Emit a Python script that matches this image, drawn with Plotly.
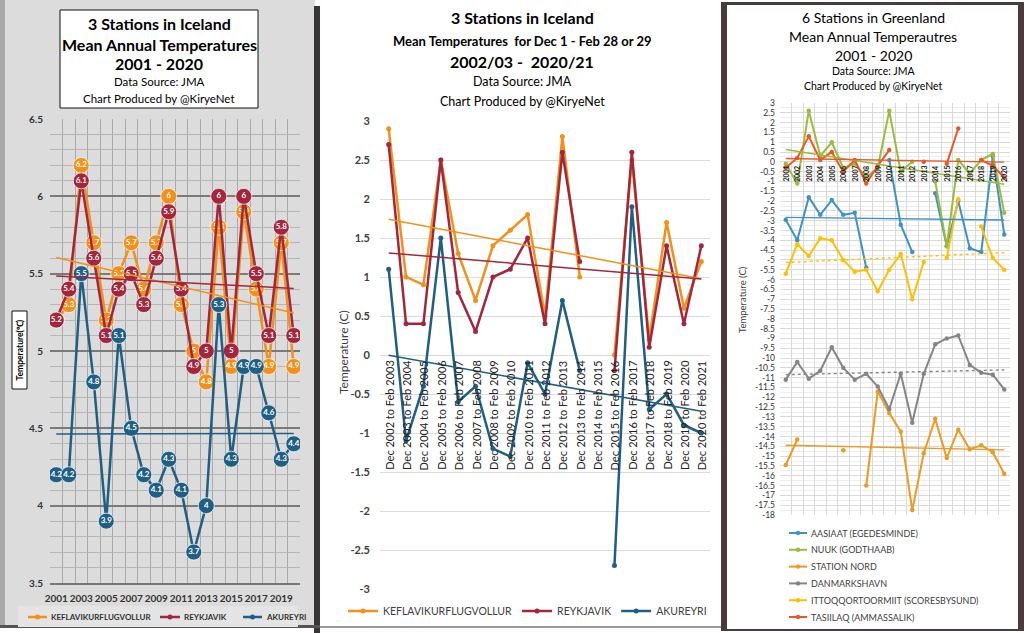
import numpy as np
import plotly.graph_objects as go

W, H = 1024, 633
FONT = "Lato"

# ---------------- data ----------------
years = [2001, 2002, 2003, 2004, 2005, 2006, 2007, 2008, 2009, 2010,
         2011, 2012, 2013, 2014, 2015, 2016, 2017, 2018, 2019, 2020]
year_ticks = [2001, 2003, 2005, 2007, 2009, 2011, 2013, 2015, 2017, 2019]

kef_annual = [5.2, 5.3, 6.2, 5.7, 5.2, 5.5, 5.7, 5.4, 5.7, 6.0,
              5.3, 5.0, 4.8, 5.8, 4.9, 5.9, 5.4, 4.9, 5.7, 4.9]
rey_annual = [5.2, 5.4, 6.1, 5.6, 5.1, 5.4, 5.5, 5.3, 5.6, 5.9,
              5.4, 4.9, 5.0, 6.0, 5.0, 6.0, 5.5, 5.1, 5.8, 5.1]
aku_annual = [4.2, 4.2, 5.5, 4.8, 3.9, 5.1, 4.5, 4.2, 4.1, 4.3,
              4.1, 3.7, 4.0, 5.3, 4.3, 4.9, 4.9, 4.6, 4.3, 4.4]

winters = ["Dec 2002 to Feb 2003", "Dec 2003 to Feb 2004", "Dec 2004 to Feb 2005",
           "Dec 2005 to Feb 2006", "Dec 2006 to Feb 2007", "Dec 2007 to Feb 2008",
           "Dec 2008 to Feb 2009", "Dec 2009 to Feb 2010", "Dec 2010 to Feb 2011",
           "Dec 2011 to Feb 2012", "Dec 2012 to Feb 2013", "Dec 2013 to Feb 2014",
           "Dec 2014 to Feb 2015", "Dec 2015 to Feb 2016", "Dec 2016 to Feb 2017",
           "Dec 2017 to Feb 2018", "Dec 2018 to Feb 2019", "Dec 2019 to Feb 2020",
           "Dec 2020 to Feb 2021"]
kef_winter = [2.9, 1.0, 0.9, 2.5, 1.3, 0.7, 1.4, 1.6, 1.8, 0.5,
              2.8, 1.0, None, 0.0, 2.5, 0.2, 1.7, 0.6, 1.2]
rey_winter = [2.7, 0.4, 0.4, 2.5, 0.8, 0.3, 1.0, 1.1, 1.5, 0.4,
              2.6, 1.2, None, -0.2, 2.6, 0.1, 1.4, 0.4, 1.4]
aku_winter = [1.1, -1.1, -0.4, 1.5, -0.6, -0.4, -1.2, -1.3, -0.1, -0.5,
              0.7, -0.2, None, -2.7, 1.9, -0.7, -0.5, -0.9, -1.0]

aasiaat = [-2.95, -4.0, -1.8, -2.7, -1.95, -2.7, -2.6, -5.4, None, 0.1,
           -3.2, -4.6, None, -1.6, -4.3, -2.0, -4.4, -4.6, 0.3, -3.7]
nuuk = [-0.1, -1.1, 2.6, 0.3, 1.0, -0.3, -0.1, -0.8, -0.3, 2.6,
        -0.5, 0.0, None, -1.0, -4.3, 0.1, -0.6, 0.1, 0.4, -2.6]
station_nord = [-15.45, -14.15, None, None, None, -14.7, None, -16.5, -11.7, -12.8,
                -13.75, -17.75, -14.85, -13.1, -15.1, -13.65, -14.65, -14.45, -14.8, -15.9]
danmarkshavn = [-11.1, -10.2, -11.05, -10.65, -9.45, -10.5, -11.1, -10.8, -11.45, -12.6,
                -10.8, -13.3, -10.8, -9.3, -9.0, -8.85, -10.35, -10.75, -10.85, -11.6]
ittoqqortoormiit = [-5.7, -4.2, -4.8, -3.9, -4.0, -5.0, -5.6, -5.5, -6.6, -5.5,
                    -4.7, -7.0, -5.1, None, -4.9, -1.9, None, -3.3, -4.9, -5.5]
tasiilaq = [-0.3, 0.2, 1.3, 0.1, 0.5, -0.5, 0.1, -1.1, -0.2, 0.6,
            None, None, 0.0, None, -0.1, 1.7, None, 0.1, -0.2, -0.8]

left_yticks = [3.5, 4, 4.5, 5, 5.5, 6, 6.5]
mid_yticks = [-3, -2.5, -2, -1.5, -1, -0.5, 0, 0.5, 1, 1.5, 2, 2.5, 3]
right_yticks = [3 - 0.5 * i for i in range(43)]

# ---------------- helpers ----------------
def px(x):
    return x / W


def py(y):
    return 1 - y / H


def trend(xs, ys):
    pts = [(x, y) for x, y in zip(xs, ys) if y is not None]
    a, b = np.polyfit([p[0] for p in pts], [p[1] for p in pts], 1)
    return [xs[0], xs[-1]], [a * xs[0] + b, a * xs[-1] + b]


def fmt(v):
    return f"{v:g}"


fig = go.Figure()
annotations = []
shapes = []


def note(text, x, y, size, color="#000", bold=False, xanchor="center", yanchor="middle", angle=0):
    annotations.append(dict(
        text=f"<b>{text}</b>" if bold else text, x=px(x), y=py(y), xref="paper", yref="paper",
        showarrow=False, font=dict(size=size, color=color, family=FONT),
        xanchor=xanchor, yanchor=yanchor, textangle=angle))


def legend_entry(x0, x1, yy, col, name, size, color, bold=False, r=2.2, width=2):
    shapes.append(dict(type="line", xref="paper", yref="paper", x0=px(x0), x1=px(x1),
                       y0=py(yy), y1=py(yy), line=dict(color=col, width=width)))
    xc = (x0 + x1) / 2
    shapes.append(dict(type="circle", xref="paper", yref="paper", x0=px(xc - r), x1=px(xc + r),
                       y0=py(yy + r), y1=py(yy - r), fillcolor=col, line=dict(width=0)))
    note(name, x1 + 2, yy, size, color=color, bold=bold, xanchor="left")


# ---------------- panel backgrounds ----------------
shapes += [
    dict(type="rect", xref="paper", yref="paper", x0=px(0), x1=px(315), y0=py(626), y1=py(0),
         fillcolor="#dcdcdc", line=dict(width=0), layer="below"),
    dict(type="rect", xref="paper", yref="paper", x0=px(0), x1=px(5), y0=py(626), y1=py(0),
         fillcolor="#a8a8a8", line=dict(width=0), layer="below"),
    dict(type="rect", xref="paper", yref="paper", x0=px(314), x1=px(320), y0=py(633), y1=py(6),
         fillcolor="#3a3434", line=dict(width=0), layer="below"),
    dict(type="rect", xref="paper", yref="paper", x0=px(0), x1=px(320), y0=py(628), y1=py(625),
         fillcolor="#555555", line=dict(width=0), layer="below"),
    dict(type="line", xref="paper", yref="paper", x0=px(320), x1=px(721), y0=py(627), y1=py(627),
         line=dict(color="#9a9a9a", width=2), layer="below"),
    dict(type="rect", xref="paper", yref="paper", x0=px(721), x1=px(727), y0=py(631), y1=py(3),
         fillcolor="#4a3c3c", line=dict(width=0), layer="below"),
    dict(type="rect", xref="paper", yref="paper", x0=px(721), x1=px(1024), y0=py(5), y1=py(2),
         fillcolor="#4a3c3c", line=dict(width=0), layer="below"),
    dict(type="rect", xref="paper", yref="paper", x0=px(1018), x1=px(1024), y0=py(631), y1=py(3),
         fillcolor="#4a3c3c", line=dict(width=0), layer="below"),
    dict(type="line", xref="paper", yref="paper", x0=px(721), x1=px(1024), y0=py(630), y1=py(630),
         line=dict(color="#4a3c3c", width=2), layer="below"),
    # left title box
    dict(type="rect", xref="paper", yref="paper", x0=px(60), x1=px(258), y0=py(108), y1=py(10),
         fillcolor="white", line=dict(color="#111", width=1)),
    # left legend box
    dict(type="rect", xref="paper", yref="paper", x0=px(18), x1=px(298), y0=py(627), y1=py(606),
         fillcolor="#e4e4e4", line=dict(width=0), layer="below"),
    # left y title box
    dict(type="rect", xref="paper", yref="paper", x0=px(12), x1=px(27), y0=py(389), y1=py(311),
         fillcolor="white", line=dict(color="#111", width=1)),
]

# ---------------- titles ----------------
note("3 Stations in Iceland", 159, 24, 16, bold=True)
note("Mean Annual Temperatures", 159, 44, 16, bold=True)
note("2001 - 2020", 159, 64, 16, bold=True)
note("Data Source: JMA", 159, 81, 11.5)
note("Chart Produced by @KiryeNet", 159, 98, 11.5)

note("3 Stations in Iceland", 522, 18, 16, bold=True)
note("Mean Temperatures  for Dec 1 - Feb 28 or 29", 522, 41, 13, bold=True)
note("2002/03 -  2020/21", 522, 62, 16, bold=True)
note("Data Source: JMA", 522, 82, 12.5)
note("Chart Produced by @KiryeNet", 522, 101, 12.5)

note("6 Stations in Greenland", 873, 18, 14)
note("Mean Annual Temperautres", 873, 37, 14)
note("2001 - 2020", 873, 55, 14)
note("Data Source: JMA", 873, 71, 10.5)
note("Chart Produced by @KiryeNet", 873, 86, 10.5)

note("Temperature(\u2103)", 19.5, 350, 8.5, bold=True, angle=-90)
note("Temperature (C)", 343, 352, 12, color="#404040", angle=-90)
note("Temperature (C)", 742, 300, 9.5, color="#404040", angle=-90)

# ---------------- chart 1 ----------------
c_or, c_red, c_blue = "#f39019", "#a3263c", "#1f5f84"
left_series = [("KEFLAVIKURFLUGVOLLUR", kef_annual, c_or),
               ("REYKJAVIK", rey_annual, c_red),
               ("AKUREYRI", aku_annual, c_blue)]
for name, vals, col in left_series:
    fig.add_trace(go.Scatter(
        x=years, y=vals, mode="lines+markers+text", text=[fmt(v) for v in vals], name=name,
        textposition="middle center", textfont=dict(color="white", size=8, family=FONT, weight="bold"),
        line=dict(color=col, width=2.5),
        marker=dict(size=16, color=col, line=dict(color="rgba(255,255,255,0.7)", width=1)),
        xaxis="x", yaxis="y", showlegend=False, hoverinfo="skip"))
for name, vals, col in left_series:
    tx, ty = trend(years, vals)
    fig.add_trace(go.Scatter(x=tx, y=ty, mode="lines", line=dict(color=col, width=1.5),
                             xaxis="x", yaxis="y", showlegend=False, hoverinfo="skip"))
for (name, vals, col), (x0, x1) in zip(left_series, [(28, 47), (160, 180), (243, 262)]):
    legend_entry(x0, x1, 617, col, name, 8, "#333", bold=True, r=2.5, width=2.5)

# ---------------- chart 2 ----------------
idx = list(range(len(winters)))
mid_series = [("KEFLAVIKURFLUGVOLLUR", kef_winter, c_or),
              ("REYKJAVIK", rey_winter, c_red),
              ("AKUREYRI", aku_winter, c_blue)]
for name, vals, col in mid_series:
    fig.add_trace(go.Scatter(x=idx, y=vals, mode="lines+markers", name=name,
                             line=dict(color=col, width=2.5), marker=dict(size=5, color=col),
                             xaxis="x2", yaxis="y2", legend="legend2", hoverinfo="skip"))
for name, vals, col in mid_series:
    tx, ty = trend(idx, vals)
    fig.add_trace(go.Scatter(x=tx, y=ty, mode="lines", line=dict(color=col, width=1.5),
                             xaxis="x2", yaxis="y2", showlegend=False, hoverinfo="skip"))
for i, lab in zip(idx, winters):
    annotations.append(dict(text=lab, x=i, y=0, xref="x2", yref="y2", showarrow=False,
                            textangle=-90, xanchor="center", yanchor="top", yshift=-3,
                            font=dict(size=11, color="#222", family=FONT)))

# ---------------- chart 3 ----------------
green_series = [
    ("AASIAAT (EGEDESMINDE)", aasiaat, "#3f93c4", "solid"),
    ("NUUK (GODTHAAB)", nuuk, "#9bbb3b", "solid"),
    ("STATION NORD", station_nord, "#ee9a1e", "solid"),
    ("DANMARKSHAVN", danmarkshavn, "#858585", "dot"),
    ("ITTOQQORTOORMIIT (SCORESBYSUND)", ittoqqortoormiit, "#ffc000", "dot"),
    ("TASIILAQ (AMMASSALIK)", tasiilaq, "#e8582a", "solid"),
]
for name, vals, col, ts in green_series:
    fig.add_trace(go.Scatter(x=years, y=vals, mode="lines+markers", name=name,
                             line=dict(color=col, width=2), marker=dict(size=4.5, color=col),
                             xaxis="x3", yaxis="y3", showlegend=False, hoverinfo="skip"))
for name, vals, col, ts in green_series:
    tx, ty = trend(years, vals)
    fig.add_trace(go.Scatter(x=tx, y=ty, mode="lines", line=dict(color=col, width=1.4, dash=ts),
                             xaxis="x3", yaxis="y3", showlegend=False, hoverinfo="skip"))
for yv in years:
    annotations.append(dict(text=f"<b>{yv}</b>", x=yv, y=0, xref="x3", yref="y3", showarrow=False,
                            textangle=-90, xanchor="center", yanchor="top", yshift=-2,
                            font=dict(size=7, color="#222", family=FONT)))
for k, (name, vals, col, ts) in enumerate(green_series):
    legend_entry(789, 807, 533 + k * 16.8, col, name, 9, "#404040")

# ---------------- layout ----------------
fig.update_layout(
    width=W, height=H, margin=dict(l=0, r=0, t=0, b=0, pad=0, autoexpand=False),
    paper_bgcolor="white", plot_bgcolor="rgba(0,0,0,0)",
    font=dict(family=FONT),
    shapes=shapes, annotations=annotations,
    xaxis=dict(domain=[px(50), px(300)], range=[2000.5, 2020.5], tickvals=year_ticks,
               ticktext=[str(v) for v in year_ticks], showgrid=False, zeroline=False,
               tickfont=dict(size=10, color="#333", family=FONT, weight="bold"),
               ticks="", ticklabelstandoff=5, tickangle=0,
               minor=dict(tick0=2000.5, dtick=1, showgrid=True, gridcolor="#a9a9a9", gridwidth=1),
               anchor="y", showline=True, linecolor="#777", linewidth=1.5, mirror=False),
    yaxis=dict(domain=[py(583), py(119)], range=[3.5, 6.5], tickvals=left_yticks,
               ticktext=[fmt(v) for v in left_yticks], showgrid=True, gridcolor="#7a7a7a",
               gridwidth=1.5, zeroline=False, ticklabelstandoff=6,
               tickfont=dict(size=10, color="#333", family=FONT, weight="bold"),
               minor=dict(dtick=0.1, showgrid=True, gridcolor="#b5b5b5", gridwidth=1),
               anchor="x"),
    xaxis2=dict(domain=[px(380), px(710)], range=[-0.5, len(winters) - 0.5],
                showticklabels=False, showgrid=False, zeroline=False, anchor="y2"),
    yaxis2=dict(domain=[py(589), py(121)], range=[-3, 3], tickvals=mid_yticks,
                ticktext=[fmt(v) for v in mid_yticks], showgrid=True, gridcolor="#dcdcdc",
                zeroline=False, ticklabelstandoff=9,
                tickfont=dict(size=11, color="#404040", family=FONT, weight="bold"), anchor="x2"),
    xaxis3=dict(domain=[px(780), px(1010)], range=[2000.5, 2020.5], showticklabels=False,
                tickvals=[2000.5 + i for i in range(21)], showgrid=True, gridcolor="#d9d9d9",
                zeroline=False, anchor="y3"),
    yaxis3=dict(domain=[py(515), py(103)], range=[-18, 3], tickvals=right_yticks,
                ticktext=[fmt(v) for v in right_yticks], showgrid=True, gridcolor="#d9d9d9",
                zeroline=False, ticklabelstandoff=4,
                tickfont=dict(size=8.5, color="#333", family=FONT),
                minor=dict(dtick=0.25, showgrid=True, gridcolor="#eeeeee"), anchor="x3"),
    legend2=dict(orientation="h", x=px(343), y=py(611), xanchor="left", yanchor="middle",
                 bgcolor="rgba(0,0,0,0)", font=dict(size=10.5, color="#404040", family=FONT),
                 itemwidth=30),
)

fig.write_html("out.html")
